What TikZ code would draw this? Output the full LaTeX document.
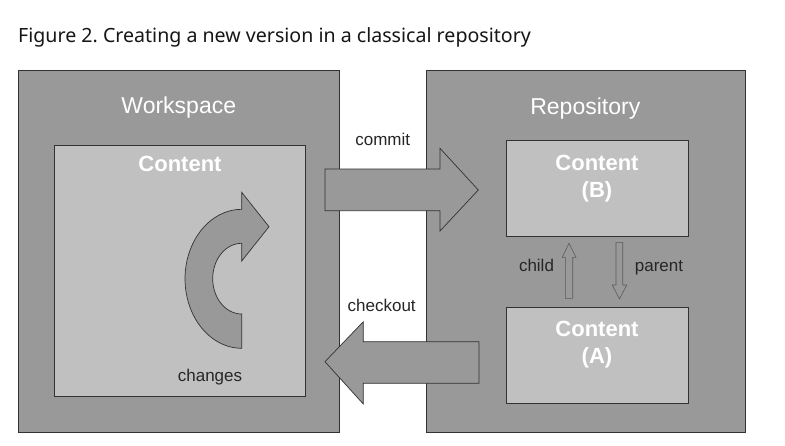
\documentclass[tikz,border=0pt]{standalone}
\usepackage{fontspec}
\setmainfont{Liberation Sans}
\newfontfamily\titlefont{Noto Sans}
\definecolor{outergray}{RGB}{153,153,153}
\definecolor{innergray}{RGB}{192,192,192}
\definecolor{edgegray}{RGB}{50,50,50}
\definecolor{titleink}{RGB}{22,22,22}
\tikzset{
  outerbox/.style={draw=edgegray, fill=outergray, line width=0.8pt, inner sep=0pt},
  contentbox/.style={draw=edgegray, fill=innergray, line width=0.8pt, inner sep=0pt, minimum width=182pt, minimum height=96pt},
  blockarrow/.style={draw=edgegray, fill=outergray, line width=0.7pt, line join=miter},
  thinarrow/.style={draw=edgegray!80, fill=outergray, line width=0.6pt},
  heading/.style={text=white, font=\fontsize{23}{27}\selectfont, inner sep=0pt, anchor=base},
  bold/.style={text=white, font=\fontsize{22}{28}\selectfont\bfseries, inner sep=0pt, anchor=base},
  plain/.style={text=black!85, font=\fontsize{17}{20}\selectfont, inner sep=0pt, anchor=base}
}
\begin{document}
\frenchspacing
\begin{tikzpicture}[x=1pt,y=-1pt]
\useasboundingbox (0,0) rectangle (785,445);
\fill[white] (0,0) rectangle (785,445);

% title
\node[anchor=base west, inner sep=0pt, text=titleink] (title) at (18,42.3)
  {\titlefont\fontsize{19.6}{23}\selectfont Figure 2. Creating a new version in a classical repository};

% outer boxes
\node[outerbox, minimum width=321pt, minimum height=362pt] (ws) at (178.5,251) {};
\node[outerbox, minimum width=319.5pt, minimum height=362pt] (repo) at (585.75,251) {};

% content boxes
\node[contentbox, minimum width=251.4pt, minimum height=250.3pt] (cw) at (180,270.85) {};
\node[contentbox] (cb) at (597,188.35) {};
\node[contentbox] (ca) at (597,355) {};

% headings
\node[heading] (wslabel) at (178.8,113.3) {Workspace};
\node[heading] (repolabel) at (585.3,114) {Repository};
\node[bold] (cwlabel) at (180,171.7) {Content};
\node[bold] (cblabel) at (597,170) {Content};
\node[bold] (cbtag) at (597,197.5) {(B)};
\node[bold] (calabel) at (597,336) {Content};
\node[bold] (catag) at (597,363.5) {(A)};

% plain labels
\node[plain] (commitlabel) at (382.7,145) {commit};
\node[plain] (checkoutlabel) at (381.7,311.7) {checkout};
\node[plain] (changeslabel) at (210,381.5) {changes};
\node[plain] (childlabel) at (536.5,271.7) {child};
\node[plain] (parentlabel) at (659,271.7) {parent};

% commit arrow
\draw[blockarrow] (325,169) -- (440,169) -- (440,148.3) -- (478.3,190) -- (440,231)
  -- (440,210.7) -- (325,210.7) -- cycle;

% checkout arrow
\draw[blockarrow] (479,341.7) -- (363.3,341.7) -- (363.3,321.7) -- (325,361.7) -- (363.3,404)
  -- (363.3,383.3) -- (479,383.3) -- cycle;

% curved "changes" arrow
\draw[blockarrow] (241.7,192.3) -- (269,226.7) -- (241.7,261) -- (241.7,243.3)
  -- plot[domain=90:270, samples=40] ({241.7+29*cos(\x)}, {278.65-35.35*sin(\x)})
  -- (241.7,348.3)
  -- plot[domain=90:270, samples=40] ({241.7+56.7*cos(\x)}, {278.8+69.5*sin(\x)})
  -- cycle;

% child arrow (up)
\draw[thinarrow] (565.3,298.3) -- (565.3,257.3) -- (562.3,257.3) -- (569,243.3) -- (576,257.3)
  -- (572.7,257.3) -- (572.7,298.3) -- cycle;

% parent arrow (down)
\draw[thinarrow] (616,242.3) -- (622.7,242.3) -- (622.7,285) -- (626.7,285) -- (619.4,299)
  -- (612.3,285) -- (616,285) -- cycle;
\end{tikzpicture}
\end{document}
